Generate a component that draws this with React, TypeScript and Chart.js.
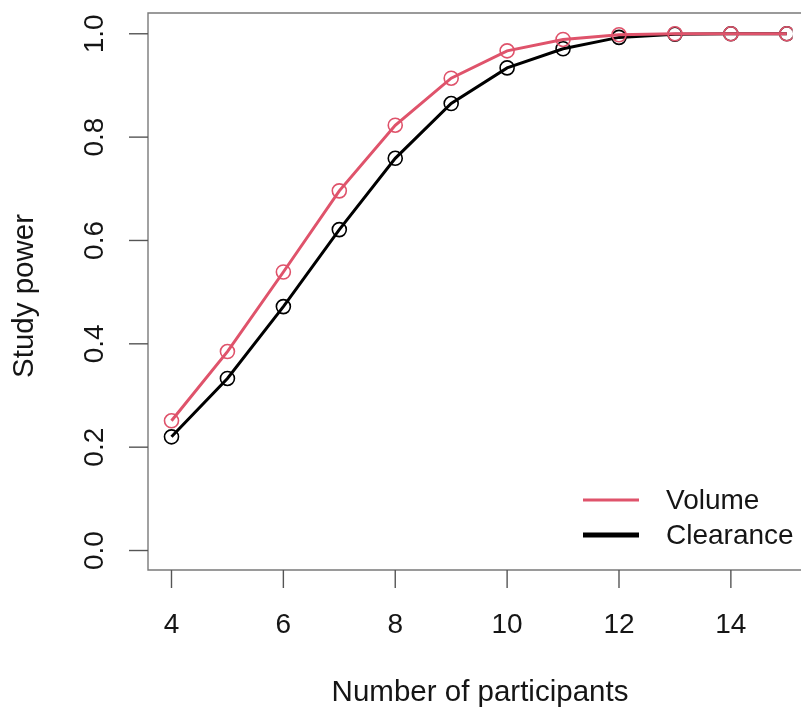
import React, { useEffect, useRef } from "react";
import { Chart, registerables } from "chart.js";

Chart.register(...registerables);

const participants = [4, 5, 6, 7, 8, 9, 10, 11, 12, 13, 14, 15];
const volumePower = [0.251, 0.385, 0.539, 0.696, 0.823, 0.914, 0.967, 0.989, 0.998, 1.0, 1.0, 1.0];
const clearancePower = [0.22, 0.333, 0.472, 0.621, 0.759, 0.865, 0.934, 0.971, 0.993, 0.999, 1.0, 1.0];
const xTicks = [4, 6, 8, 10, 12, 14];
const yTicks = [0.0, 0.2, 0.4, 0.6, 0.8, 1.0];
const yTickLabels = ["0.0", "0.2", "0.4", "0.6", "0.8", "1.0"];
const seriesNames = ["Volume", "Clearance"];
const xTitle = "Number of participants";
const yTitle = "Study power";

const RED = "#DF536B";
const BLACK = "#000000";
const FONT = "28px 'Liberation Sans', Arial, sans-serif";
const TITLE_FONT = "29.5px 'Liberation Sans', Arial, sans-serif";
const TEXT = "#151515";

const axesPlugin = {
  id: "rAxes",
  afterDraw(chart: any) {
    const { ctx, chartArea, scales } = chart;
    const xs = scales.x;
    const ys = scales.y;
    const left = chartArea.left;
    const top = chartArea.top;
    const bottom = chartArea.bottom;
    ctx.save();
    // box (right side lies beyond the picture)
    ctx.strokeStyle = "#7a7a7a";
    ctx.lineWidth = 1.4;
    ctx.beginPath();
    ctx.moveTo(820, top);
    ctx.lineTo(left, top);
    ctx.lineTo(left, bottom);
    ctx.lineTo(820, bottom);
    ctx.stroke();
    // x ticks
    ctx.strokeStyle = "#555";
    ctx.fillStyle = TEXT;
    ctx.font = FONT;
    ctx.textAlign = "center";
    ctx.textBaseline = "alphabetic";
    xTicks.forEach((v) => {
      const px = xs.getPixelForValue(v);
      ctx.beginPath();
      ctx.moveTo(px, bottom);
      ctx.lineTo(px, bottom + 18);
      ctx.stroke();
      ctx.fillText(String(v), px, 633);
    });
    // y ticks
    yTicks.forEach((v, i) => {
      const py = ys.getPixelForValue(v);
      ctx.beginPath();
      ctx.moveTo(left, py);
      ctx.lineTo(left - 19, py);
      ctx.stroke();
      ctx.save();
      ctx.translate(103, py);
      ctx.rotate(-Math.PI / 2);
      ctx.fillText(yTickLabels[i], 0, 0);
      ctx.restore();
    });
    // titles
    ctx.font = TITLE_FONT;
    ctx.fillText(xTitle, 480, 701);
    ctx.save();
    ctx.translate(33, 296);
    ctx.rotate(-Math.PI / 2);
    ctx.fillText(yTitle, 0, 0);
    ctx.restore();
    // legend
    ctx.font = FONT;
    const items = [
      { name: seriesNames[0], color: RED, w: 3, y: 500 },
      { name: seriesNames[1], color: BLACK, w: 5, y: 535 },
    ];
    ctx.textAlign = "left";
    ctx.textBaseline = "middle";
    items.forEach((it) => {
      ctx.strokeStyle = it.color;
      ctx.lineWidth = it.w;
      ctx.beginPath();
      ctx.moveTo(583, it.y);
      ctx.lineTo(639, it.y);
      ctx.stroke();
      ctx.fillStyle = TEXT;
      ctx.fillText(it.name, 666, it.y + 1);
    });
    ctx.restore();
  },
};

export default function App() {
  const ref = useRef<HTMLCanvasElement | null>(null);
  useEffect(() => {
    document.body.style.margin = "0";
    document.body.style.overflow = "hidden";
    const canvas = ref.current!;
    const chart = new Chart(canvas, {
      type: "line",
      data: {
        datasets: [
          {
            label: seriesNames[0],
            data: participants.map((x, i) => ({ x, y: volumePower[i] })),
            borderColor: RED,
            borderWidth: 3,
            pointRadius: 7,
            pointBorderWidth: 1.6,
            pointBorderColor: RED,
            pointBackgroundColor: "rgba(0,0,0,0)",
            tension: 0,
            fill: false,
          },
          {
            label: seriesNames[1],
            data: participants.map((x, i) => ({ x, y: clearancePower[i] })),
            borderColor: BLACK,
            borderWidth: 3,
            pointRadius: 7,
            pointBorderWidth: 1.6,
            pointBorderColor: BLACK,
            pointBackgroundColor: "rgba(0,0,0,0)",
            tension: 0,
            fill: false,
          },
        ],
      },
      options: {
        responsive: false,
        animation: false,
        devicePixelRatio: 1,
        layout: { padding: { left: 148, top: 13, right: 0, bottom: 140 } },
        scales: {
          x: { type: "linear", display: false, min: 3.58, max: 15.1 },
          y: { type: "linear", display: false, min: -0.0377, max: 1.0402 },
        },
        plugins: { legend: { display: false }, tooltip: { enabled: false } },
      },
      plugins: [axesPlugin],
    });
    return () => chart.destroy();
  }, []);
  return (
    <div style={{ width: 801, height: 710, background: "#fff" }}>
      <canvas ref={ref} width={801} height={710} style={{ display: "block" }} />
    </div>
  );
}
